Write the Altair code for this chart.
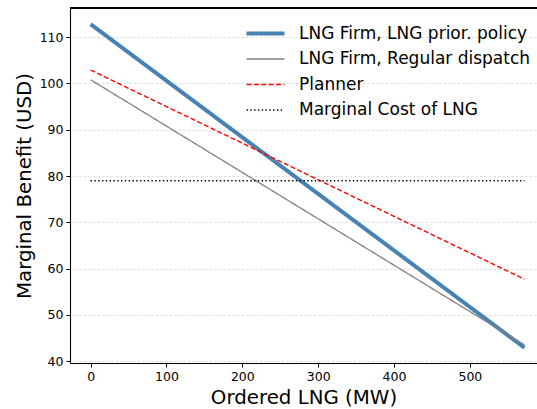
import altair as alt
import pandas as pd

# Ordered LNG (MW) at the two ends of each schedule
x_ends = [0, 572]

series_names = [
    "LNG Firm, LNG prior. policy",
    "LNG Firm, Regular dispatch",
    "Planner",
    "Marginal Cost of LNG",
]
prior_policy = [112.8, 42.9]
regular_dispatch = [100.8, 43.5]
planner = [102.9, 57.7]
marginal_cost = [79.0, 79.0]

colors = ["#4682b4", "#808080", "#ff0000", "#000000"]
widths = [4.0, 1.3, 1.4, 1.5]
dashes = [[1, 0], [1, 0], [5, 2.4], [1.4, 2.4]]

rows = []
for name, vals in zip(series_names, [prior_policy, regular_dispatch, planner, marginal_cost]):
    for xv, yv in zip(x_ends, vals):
        rows.append({"series": name, "mw": xv, "usd": yv})
df = pd.DataFrame(rows)

W, H = 467, 355
FONT = "DejaVu Sans"

# a wide horizontal stroke so the legend rows stay compact
legend = alt.Legend(
    title=None,
    orient="none",
    legendX=184,
    legendY=14,
    symbolType="M-2,0L2,0",
    symbolSize=361,
    symbolFillColor="transparent",
    labelFontSize=17,
    labelFont=FONT,
    labelColor="#000000",
    labelOffset=22,
    rowPadding=6.5,
    padding=0,
    labelLimit=400,
)

lines = alt.Chart(df).mark_line(clip=True).encode(
    x=alt.X(
        "mw:Q",
        scale=alt.Scale(domain=[-27.2, 588.5], nice=False, zero=False),
        axis=alt.Axis(
            title="Ordered LNG (MW)",
            values=[0, 100, 200, 300, 400, 500],
            grid=False,
            titlePadding=5,
        ),
    ),
    y=alt.Y(
        "usd:Q",
        scale=alt.Scale(domain=[39.6, 116.3], nice=False, zero=False),
        axis=alt.Axis(
            title="Marginal Benefit (USD)",
            values=[40, 50, 60, 70, 80, 90, 100, 110],
            grid=True,
            titlePadding=5,
        ),
    ),
    color=alt.Color("series:N", scale=alt.Scale(domain=series_names, range=colors), legend=legend),
    strokeWidth=alt.StrokeWidth(
        "series:N",
        scale=alt.Scale(type="ordinal", domain=series_names, range=widths),
        legend=legend,
    ),
    strokeDash=alt.StrokeDash("series:N", scale=alt.Scale(domain=series_names, range=dashes), legend=legend),
    detail="series:N",
)

# top frame line of the plot area
top_edge = alt.Chart(df).mark_rule(color="#000000", strokeWidth=1.1).encode(
    x=alt.value(0), x2=alt.value(W), y=alt.value(0)
)

chart = (
    alt.layer(lines, top_edge)
    .properties(
        width=W,
        height=H,
        autosize=alt.AutoSizeParams(type="none"),
        padding={"left": 70, "top": 8, "right": 0, "bottom": 46},
        background="white",
    )
    .configure_view(stroke=None)
    .configure_axis(
        labelFont=FONT,
        titleFont=FONT,
        labelFontSize=12.5,
        titleFontSize=19.8,
        titleFontWeight="normal",
        labelColor="#000000",
        titleColor="#000000",
        domainColor="#000000",
        domainWidth=1.1,
        tickColor="#000000",
        tickSize=4,
        tickWidth=1,
        labelPadding=3,
        gridColor="#cfcfcf",
        gridDash=[2.5, 2],
        gridWidth=0.7,
    )
)

chart.save("out.html", embed_options={"renderer": "svg", "actions": False})
